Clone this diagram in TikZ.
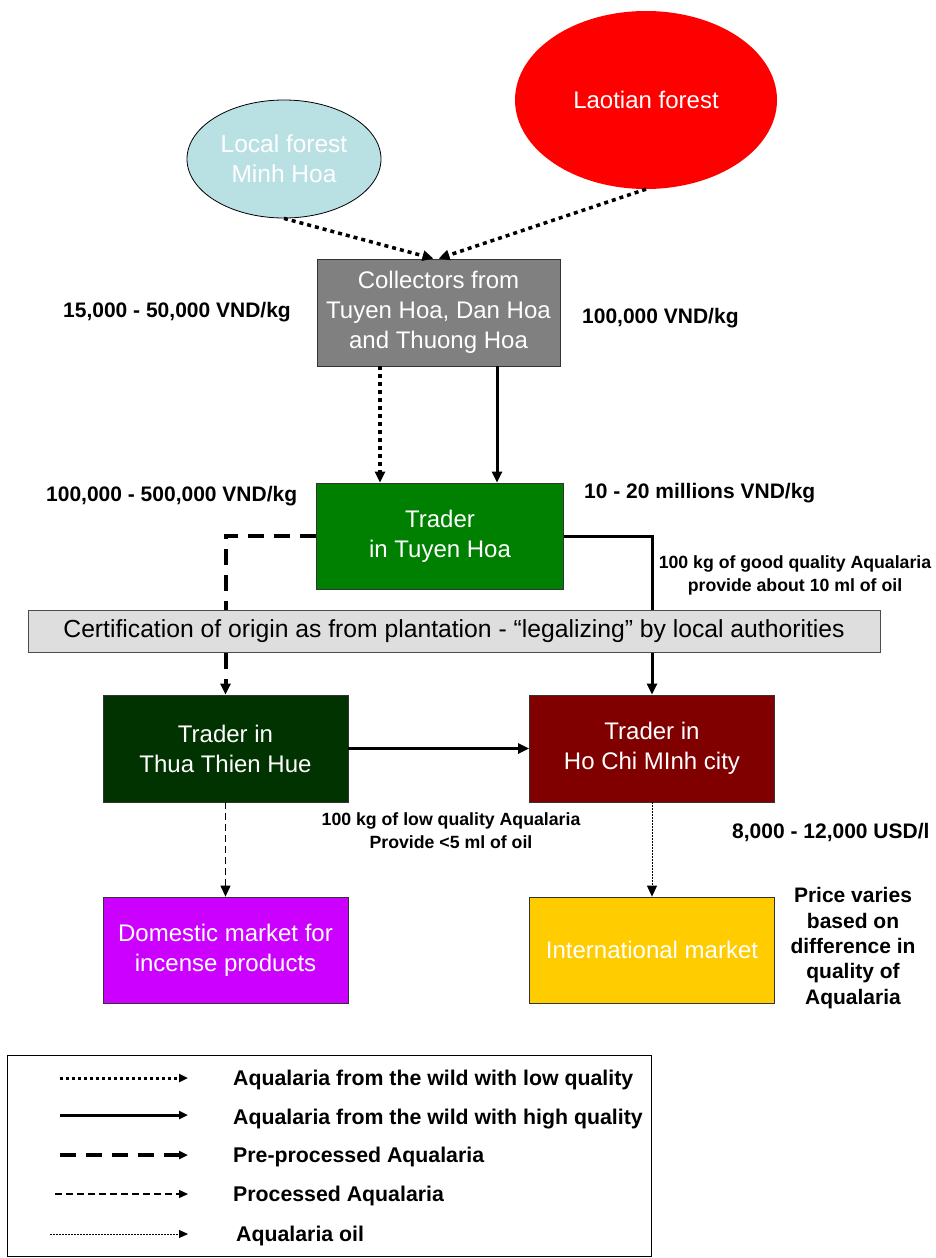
\documentclass[tikz,border=0pt]{standalone}
\usepackage{fontspec}
\setmainfont{Liberation Sans}
\usetikzlibrary{arrows.meta,shapes.geometric}
\definecolor{lblue}{HTML}{B9E0E3}
\definecolor{laored}{HTML}{FF0000}
\definecolor{collgray}{HTML}{808080}
\definecolor{tgreen}{HTML}{008000}
\definecolor{dgreen}{HTML}{003300}
\definecolor{dred}{HTML}{800000}
\definecolor{magen}{HTML}{CC00FF}
\definecolor{gold}{HTML}{FFCC00}
\definecolor{certgray}{HTML}{DEDEDE}
\begin{document}
\begin{tikzpicture}[x=1pt,y=-1pt,
  box/.style={rectangle, draw=black!80, line width=0.8pt, minimum width=245pt, minimum height=107pt, text=white, align=center, font=\fontsize{24}{30}\selectfont, inner sep=0pt},
  lbl/.style={font=\bfseries\fontsize{21}{25.3}\selectfont, align=center, inner sep=0pt},
  sml/.style={font=\bfseries\fontsize{17.7}{23}\selectfont, align=center, inner sep=0pt},
  tip/.style={-{Triangle[length=11pt,width=10pt]}},
  ltip/.style={-{Triangle[length=9pt,width=8pt]}},
  lowq/.style={line width=3.5pt, dash pattern=on 4pt off 4pt},
  highq/.style={line width=3pt},
  prep/.style={line width=4pt, dash pattern=on 16pt off 10pt},
  proc/.style={line width=1.2pt, dash pattern=on 7pt off 4pt},
  oil/.style={line width=1pt, dash pattern=on 1.5pt off 1.5pt},
  legtext/.style={font=\bfseries\fontsize{21.3}{25}\selectfont, anchor=west, inner sep=0pt}
]
\useasboundingbox (0,0) rectangle (935,1258);

% sources
\node[ellipse, draw=black, line width=0.8pt, fill=lblue, minimum width=194pt, minimum height=118pt, text=white, align=center, font=\fontsize{24.5}{30}\selectfont, inner sep=0pt] (local) at (284,159) {Local forest\\Minh Hoa};
\node[ellipse, fill=laored, minimum width=262pt, minimum height=178pt, text=white, font=\fontsize{24}{30}\selectfont, inner sep=0pt] (laos) at (646,100) {Laotian forest};

% boxes
\node[box, fill=collgray, minimum width=243pt] (coll) at (438.5,312.5) {Collectors from\\Tuyen Hoa, Dan Hoa\\and Thuong Hoa};
\node[box, fill=tgreen, minimum width=247pt, minimum height=106pt] (tth) at (440,536) {Trader\\in Tuyen Hoa};
\node[box, fill=dgreen] (hue) at (225.5,748.5) {Trader in\\Thua Thien Hue};
\node[box, fill=dred] (hcm) at (652,748.5) {Trader in\\Ho Chi MInh city};
\node[box, fill=magen, minimum height=106pt] (dom) at (225.5,950) {Domestic market for\\incense products};
\node[box, fill=gold, minimum height=106pt] (intl) at (652,950) {International market};

% connectors
\coordinate (c1) at (380,0);
\coordinate (c2) at (497,0);
\draw[lowq, tip] (local.south) -- ([xshift=-5pt]coll.north);
\draw[lowq, tip] (laos.south) -- ([xshift=0pt]coll.north);
\draw[lowq, tip] (coll.south -| c1) -- (tth.north -| c1);
\draw[highq, tip] (coll.south -| c2) -- (tth.north -| c2);
\draw[prep, tip] (tth.west) -| (hue.north);
\draw[highq, tip] (tth.east) -| (hcm.north);
\draw[highq, tip] (hue.east) -- (hcm.west);
\draw[proc, tip] (hue.south) -- (dom.north);
\draw[oil, tip] (hcm.south) -- (intl.north);

% certification bar (over the lines)
\node[rectangle, draw=black!70, line width=0.8pt, fill=certgray, minimum width=852pt, minimum height=42pt, inner sep=0pt, font=\fontsize{24.7}{28}\selectfont] (cert) at (454,631.5) {Certification of origin as from plantation - “legalizing” by local authorities};

% labels
\node[lbl, anchor=west] (p1) at (63,312) {15,000 - 50,000 VND/kg};
\node[lbl, anchor=west] (p2) at (582,318) {100,000 VND/kg};
\node[lbl, anchor=west] (p3) at (46,496) {100,000 - 500,000 VND/kg};
\node[lbl, anchor=west] (p4) at (584,493) {10 - 20 millions VND/kg};
\node[sml] (n1) at (795,575) {100 kg of good quality Aqualaria\\provide about 10 ml of oil};
\node[sml] (n2) at (451,831) {100 kg of low quality Aqualaria\\Provide <5 ml of oil};
\node[lbl, anchor=west] (p5) at (732,833) {8,000 - 12,000 USD/l};
\node[lbl] (pv) at (853,948) {Price varies\\based on\\difference in\\quality of\\Aqualaria};

% legend
\node[rectangle, draw=black, line width=1pt, minimum width=644pt, minimum height=201pt, inner sep=0pt] (legend) at (329,1156) {};
\coordinate (la1) at (60,1078); \coordinate (lb1) at (188,1078);
\coordinate (la2) at (60,1115); \coordinate (lb2) at (188,1115);
\coordinate (la3) at (60,1155); \coordinate (lb3) at (188,1155);
\coordinate (la4) at (55,1194); \coordinate (lb4) at (188,1194);
\coordinate (la5) at (50,1234); \coordinate (lb5) at (188,1234);
\draw[ltip, line width=3pt, dash pattern=on 3pt off 3pt] (la1) -- (lb1);
\draw[ltip, line width=3pt] (la2) -- (lb2);
\draw[ltip, line width=4pt, dash pattern=on 16pt off 10pt] (la3) -- (lb3);
\draw[ltip, line width=1.2pt, dash pattern=on 7pt off 4pt] (la4) -- (lb4);
\draw[ltip, line width=1pt, dash pattern=on 1.5pt off 1.5pt] (la5) -- (lb5);
\node[legtext] (t1) at (233,1080) {Aqualaria from the wild with low quality};
\node[legtext] (t2) at (233,1119) {Aqualaria from the wild with high quality};
\node[legtext] (t3) at (233,1157) {Pre-processed Aqualaria};
\node[legtext] (t4) at (233,1196) {Processed Aqualaria};
\node[legtext] (t5) at (236,1236) {Aqualaria oil};
\end{tikzpicture}
\end{document}
